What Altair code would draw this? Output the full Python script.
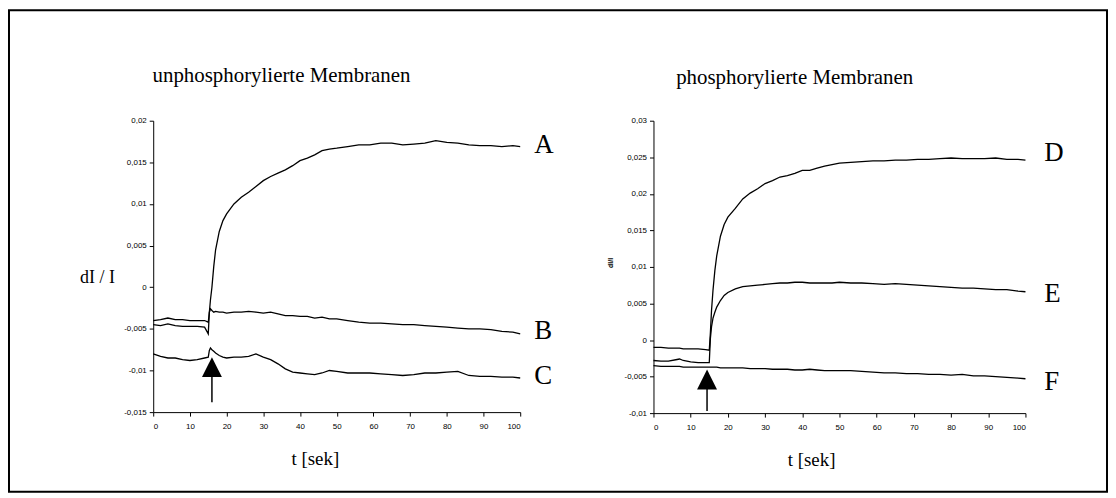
import altair as alt
import pandas as pd

# ---------------- data ----------------
T_L = [0, 2, 4, 6, 8, 10, 12, 14, 15, 15.3, 15.6, 16, 16.5, 17, 18, 19, 20, 22, 24, 26, 28,
       30, 32, 34, 36, 38, 40, 42, 44, 46, 48, 50, 53, 56, 59, 62, 65, 68, 71, 74, 77, 80,
       83, 86, 89, 92, 95, 98, 100]
A = [-0.0040, -0.0039, -0.0037, -0.0039, -0.0039, -0.0040, -0.0040, -0.0040, -0.0042, -0.0030,
     -0.0015, 0.0000, 0.0025, 0.0045, 0.0067, 0.0080, 0.0088, 0.0100, 0.0108, 0.0114, 0.0121,
     0.0128, 0.0133, 0.0137, 0.0141, 0.0146, 0.0152, 0.0155, 0.0159, 0.0164, 0.0166, 0.0167,
     0.0169, 0.0171, 0.0171, 0.0173, 0.0173, 0.0171, 0.0172, 0.0173, 0.0176, 0.0174, 0.0173,
     0.0171, 0.0170, 0.0170, 0.0169, 0.0170, 0.0169]
B = [-0.0045, -0.0046, -0.0044, -0.0046, -0.0047, -0.0047, -0.0047, -0.0048, -0.0056, -0.0030,
     -0.0026, -0.0028, -0.0030, -0.0029, -0.0030, -0.0030, -0.0031, -0.0030, -0.0030, -0.0029,
     -0.0030, -0.0031, -0.0030, -0.0032, -0.0034, -0.0034, -0.0035, -0.0035, -0.0037, -0.0036,
     -0.0038, -0.0038, -0.0040, -0.0042, -0.0043, -0.0043, -0.0044, -0.0045, -0.0045, -0.0046,
     -0.0047, -0.0048, -0.0049, -0.0050, -0.0050, -0.0051, -0.0053, -0.0054, -0.0056]
C = [-0.0080, -0.0083, -0.0085, -0.0085, -0.0087, -0.0088, -0.0087, -0.0085, -0.0084, -0.0076,
     -0.0073, -0.0075, -0.0077, -0.0079, -0.0082, -0.0084, -0.0085, -0.0084, -0.0084, -0.0083,
     -0.0080, -0.0084, -0.0087, -0.0092, -0.0098, -0.0102, -0.0103, -0.0104, -0.0105, -0.0103,
     -0.0100, -0.0101, -0.0103, -0.0103, -0.0103, -0.0104, -0.0105, -0.0106, -0.0105, -0.0103,
     -0.0103, -0.0102, -0.0101, -0.0106, -0.0107, -0.0107, -0.0108, -0.0108, -0.0109]

T_R = [0, 2, 4, 6, 7, 8, 10, 12, 14, 15, 15.3, 15.6, 16, 16.5, 17, 18, 19, 20, 22, 24, 26, 28,
       30, 32, 34, 36, 38, 40, 42, 44, 46, 48, 50, 53, 56, 59, 62, 65, 68, 71, 74, 77, 80,
       83, 86, 89, 92, 95, 98, 100]
D = [-0.0010, -0.0010, -0.0011, -0.0011, -0.0011, -0.0012, -0.0012, -0.0012, -0.0013, -0.0014,
     0.0010, 0.0040, 0.0068, 0.0095, 0.0115, 0.0142, 0.0158, 0.0168, 0.0180, 0.0193, 0.0201,
     0.0207, 0.0214, 0.0218, 0.0223, 0.0225, 0.0228, 0.0232, 0.0232, 0.0235, 0.0238, 0.0240,
     0.0242, 0.0243, 0.0244, 0.0245, 0.0245, 0.0246, 0.0246, 0.0247, 0.0247, 0.0248, 0.0249,
     0.0248, 0.0248, 0.0248, 0.0249, 0.0247, 0.0247, 0.0246]
E = [-0.0028, -0.0029, -0.0029, -0.0027, -0.0026, -0.0028, -0.0030, -0.0031, -0.0031, -0.0031,
     0.0002, 0.0018, 0.0030, 0.0038, 0.0045, 0.0054, 0.0061, 0.0065, 0.0070, 0.0073, 0.0074,
     0.0075, 0.0076, 0.0077, 0.0078, 0.0078, 0.0079, 0.0079, 0.0078, 0.0078, 0.0078, 0.0078,
     0.0079, 0.0078, 0.0078, 0.0077, 0.0076, 0.0077, 0.0076, 0.0075, 0.0074, 0.0073, 0.0072,
     0.0071, 0.0071, 0.0070, 0.0069, 0.0069, 0.0067, 0.0066]
F = [-0.0035, -0.0036, -0.0036, -0.0036, -0.0036, -0.0037, -0.0037, -0.0037, -0.0037, -0.0037,
     -0.0037, -0.0037, -0.0037, -0.0037, -0.0037, -0.0038, -0.0038, -0.0038, -0.0038, -0.0038,
     -0.0039, -0.0039, -0.0039, -0.0040, -0.0040, -0.0040, -0.0041, -0.0041, -0.0040, -0.0041,
     -0.0042, -0.0042, -0.0042, -0.0042, -0.0043, -0.0044, -0.0045, -0.0045, -0.0046, -0.0046,
     -0.0047, -0.0047, -0.0048, -0.0047, -0.0049, -0.0049, -0.0050, -0.0051, -0.0052, -0.0053]

X_TICKS = [0, 10, 20, 30, 40, 50, 60, 70, 80, 90, 100]
Y_TICKS_L = [-0.015, -0.01, -0.005, 0, 0.005, 0.01, 0.015, 0.02]
Y_TICKS_R = [-0.01, -0.005, 0, 0.005, 0.01, 0.015, 0.02, 0.025, 0.03]

LABELS_L = ["A", "B", "C"]
LABEL_Y_L = [0.0171, -0.0053, -0.0107]
LABELS_R = ["D", "E", "F"]
LABEL_Y_R = [0.0256, 0.0063, -0.0057]

# arrows: [t, head centre, shaft top, shaft bottom]
ARROW_L = [16, -0.0096, -0.0105, -0.0138]
ARROW_R = [14.4, -0.0054, -0.0066, -0.0097]

TITLE_L = "unphosphorylierte Membranen"
TITLE_R = "phosphorylierte Membranen"

SERIF = "Liberation Serif"
SANS = "Liberation Sans Narrow, Liberation Sans, Arial, sans-serif"
LABEL_EXPR = "replace(toString(datum.value), '.', ',')"


def long_df(t, series):
    rows = []
    for name, vals in series:
        for ti, vi in zip(t, vals):
            rows.append({"t": ti, "v": vi, "s": name})
    return pd.DataFrame(rows)


def panel(t, series, yticks, ydom, w, h, lab_names, lab_y, lab_dx, arrow):
    df = long_df(t, series)
    x = alt.X("t:Q", scale=alt.Scale(domain=[0, 100], nice=False),
              axis=alt.Axis(values=X_TICKS, tickCount=len(X_TICKS) + 5, title=None,
                            grid=False, labelFont=SANS, labelFontSize=8, tickSize=4,
                            labelPadding=6, labelOverlap=False, labelColor="black",
                            domainColor="black", tickColor="black"))
    y = alt.Y("v:Q", scale=alt.Scale(domain=ydom, nice=False, zero=False),
              axis=alt.Axis(values=yticks, tickCount=len(yticks) + 5, title=None,
                            grid=False, labelFont=SANS, labelFontSize=8, tickSize=4,
                            labelPadding=3, labelOverlap=False, labelExpr=LABEL_EXPR,
                            labelColor="black", domainColor="black", tickColor="black"))
    lines = alt.Chart(df).mark_line(color="black", strokeWidth=1.3).encode(
        x=x, y=y, detail="s:N")

    ldf = pd.DataFrame({"t": [100] * len(lab_names), "v": lab_y, "name": lab_names})
    labels = alt.Chart(ldf).mark_text(font=SERIF, fontSize=27, align="left",
                                      baseline="middle", dx=lab_dx, color="black").encode(
        x="t:Q", y="v:Q", text="name:N")

    adf = pd.DataFrame({"t": [arrow[0]], "head": [arrow[1]], "top": [arrow[2]],
                        "bottom": [arrow[3]]})
    head = alt.Chart(adf).mark_point(shape="M-1,1L0,-1L1,1Z", size=400, filled=True,
                                     color="black", opacity=1, strokeWidth=0).encode(
        x="t:Q", y="head:Q")
    shaft = alt.Chart(adf).mark_rule(color="black", strokeWidth=1.5).encode(
        x="t:Q", y="top:Q", y2="bottom:Q")

    return alt.layer(lines, labels, head, shaft).properties(width=w, height=h)


one = pd.DataFrame({"k": [0]})


def text_at(txt, xp, yp, size, font, angle=0, weight="normal", baseline="alphabetic"):
    return alt.Chart(one).mark_text(text=txt, font=font, fontSize=size, angle=angle,
                                    fontWeight=weight, align="center", baseline=baseline,
                                    color="black").encode(x=alt.value(xp), y=alt.value(yp))


left = panel(T_L, [("A", A), ("B", B), ("C", C)], Y_TICKS_L, [-0.015, 0.02], 369, 293,
             LABELS_L, LABEL_Y_L, 14, ARROW_L)
right = panel(T_R, [("D", D), ("E", E), ("F", F)], Y_TICKS_R, [-0.01, 0.03], 374, 294,
              LABELS_R, LABEL_Y_R, 19, ARROW_R)

border = alt.Chart(one).mark_rect(fillOpacity=0, stroke="black", strokeWidth=2).encode(
    x=alt.value(-145), x2=alt.value(959), y=alt.value(-111), y2=alt.value(373))

left = alt.layer(
    border, left,
    text_at(TITLE_L, 129, -39, 21, SERIF),
    text_at("dI / I", -56, 158, 18, SERIF, baseline="middle"),
    text_at("t [sek]", 163, 346, 19, SERIF),
).properties(width=369, height=293)

right = alt.layer(
    right,
    text_at(TITLE_R, 142, -37, 21, SERIF),
    text_at("dI/I", -43, 143, 7, "Liberation Sans", angle=270, weight="bold",
            baseline="middle"),
    text_at("t [sek]", 159, 347, 19, SERIF),
).properties(width=374, height=294)

chart = alt.HConcatChart(hconcat=[left, right], spacing=134, bounds="flush",
                         padding=0).configure_view(strokeWidth=0)

chart.save("out.html", embed_options={"renderer": "svg", "actions": False})
